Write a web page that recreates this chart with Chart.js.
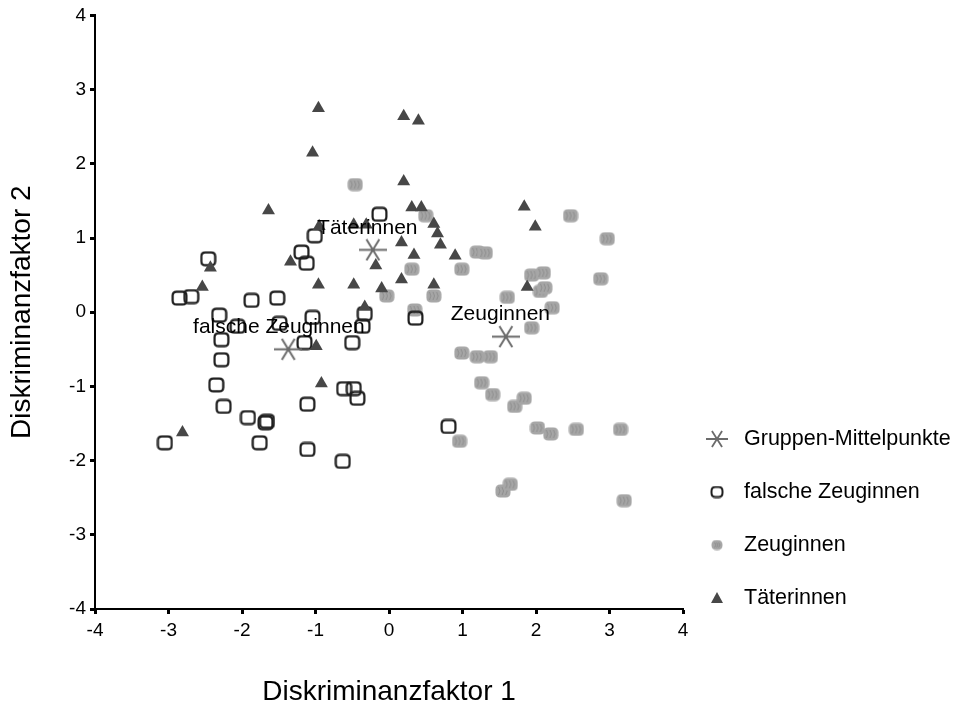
<!DOCTYPE html>
<html>
<head>
<meta charset="utf-8">
<script src="https://cdn.jsdelivr.net/npm/chart.js@4.4.1/dist/chart.umd.min.js"></script>
<style>
  html, body { margin: 0; padding: 0; background: #fff; }
  #wrap { width: 954px; height: 709px; }
</style>
</head>
<body>
<div id="wrap"><canvas id="c" width="954" height="709"></canvas></div>
<script>
// ---------------- data ----------------
const tickValues = [-4, -3, -2, -1, 0, 1, 2, 3, 4];
const xTitle = 'Diskriminanzfaktor 1';
const yTitle = 'Diskriminanzfaktor 2';
const groupNames = ['Gruppen-Mittelpunkte', 'falsche Zeuginnen', 'Zeuginnen', 'Täterinnen'];

const centroidLabels = ['Täterinnen', 'falsche Zeuginnen', 'Zeuginnen'];
const centroidX = [-0.22, -1.37, 1.59];
const centroidY = [0.84, -0.50, -0.33];

const falscheX = [-0.13, -1.01, -1.19, -1.12, -2.46, -2.85, -2.69, -1.87, -1.52, -2.31, -1.04, -0.33,
  -2.06, -1.49, -2.28, -1.15, -0.36, -0.50, -2.28, -2.35, -2.25, -1.92, -1.68, -1.66, -1.76, -3.05,
  -1.11, -1.11, -0.63, -0.61, -0.48, -0.43, 0.36, 0.81];
const falscheY = [1.32, 1.03, 0.81, 0.66, 0.72, 0.19, 0.21, 0.16, 0.19, -0.04, -0.07, -0.02,
  -0.19, -0.15, -0.37, -0.41, -0.19, -0.41, -0.64, -0.98, -1.27, -1.42, -1.49, -1.47, -1.76, -1.76,
  -1.24, -1.85, -2.01, -1.03, -1.03, -1.16, -0.08, -1.54];

const zeugX = [-0.46, -0.03, 0.50, 2.47, 2.97, 1.20, 1.31, 0.31, 0.99, 1.94, 2.10, 2.06, 2.12, 2.88,
  0.61, 1.61, 0.35, 2.22, 1.94, 0.99, 1.20, 1.38, 1.26, 1.41, 1.71, 1.84, 0.96, 2.02, 2.20, 2.55,
  3.15, 1.55, 1.65, 3.20];
const zeugY = [1.72, 0.22, 1.30, 1.30, 0.99, 0.81, 0.80, 0.58, 0.58, 0.50, 0.53, 0.28, 0.33, 0.45,
  0.22, 0.20, 0.03, 0.06, -0.21, -0.55, -0.60, -0.60, -0.95, -1.11, -1.27, -1.16, -1.74, -1.56, -1.64, -1.58,
  -1.58, -2.41, -2.32, -2.54];

const taetX = [-0.96, -1.04, 0.20, 0.40, -1.64, 0.20, 0.31, 0.44, 0.61, 0.66, 0.70, 0.17, -0.95,
  -0.48, -0.31, -1.34, -2.43, -2.54, -0.96, -0.48, -0.18, -0.10, -0.33, 0.34, 0.90, 0.17, 0.61,
  -0.99, -0.92, -2.81, 1.84, 1.99, 1.88];
const taetY = [2.75, 2.15, 2.64, 2.58, 1.37, 1.76, 1.41, 1.41, 1.19, 1.06, 0.91, 0.94, 1.16,
  1.18, 1.18, 0.68, 0.60, 0.34, 0.37, 0.37, 0.63, 0.32, 0.07, 0.77, 0.76, 0.44, 0.37,
  -0.46, -0.96, -1.62, 1.42, 1.15, 0.34];

// ---------------- helpers ----------------
const FONT = "'Liberation Sans', Arial, sans-serif";
const toPts = (xs, ys) => xs.map((x, i) => ({ x: x, y: ys[i] }));

function makeCanvas(w, h, draw) {
  const c = document.createElement('canvas');
  c.width = w; c.height = h;
  draw(c.getContext('2d'), w, h);
  return c;
}
function rr(ctx, x, y, w, h, r) {
  ctx.beginPath();
  ctx.moveTo(x + r, y);
  ctx.lineTo(x + w - r, y);
  ctx.quadraticCurveTo(x + w, y, x + w, y + r);
  ctx.lineTo(x + w, y + h - r);
  ctx.quadraticCurveTo(x + w, y + h, x + w - r, y + h);
  ctx.lineTo(x + r, y + h);
  ctx.quadraticCurveTo(x, y + h, x, y + h - r);
  ctx.lineTo(x, y + r);
  ctx.quadraticCurveTo(x, y, x + r, y);
  ctx.closePath();
}
function starImg(w, h, lw) {
  return makeCanvas(w, h, (ctx) => {
    ctx.strokeStyle = '#6b6b6b';
    ctx.lineWidth = lw;
    ctx.beginPath();
    ctx.moveTo(0, h / 2); ctx.lineTo(w, h / 2);
    ctx.moveTo(w * 0.27, 1); ctx.lineTo(w * 0.73, h - 1);
    ctx.moveTo(w * 0.73, 1); ctx.lineTo(w * 0.27, h - 1);
    ctx.stroke();
  });
}
function squareImg(w, h, lw) {
  return makeCanvas(w, h, (ctx) => {
    ctx.strokeStyle = '#1e1e1e';
    ctx.lineWidth = lw;
    rr(ctx, lw / 2 + 0.5, lw / 2 + 0.5, w - lw - 1, h - lw - 1, 4);
    ctx.stroke();
  });
}
function blobImg(w, h) {
  return makeCanvas(w, h, (ctx) => {
    ctx.fillStyle = '#a6a6a6';
    rr(ctx, 0.5, 0.5, w - 1, h - 1, 5);
    ctx.fill();
    ctx.strokeStyle = '#8e8e8e';
    ctx.lineWidth = 1;
    for (let k = 0; k < 3; k++) {
      const x0 = 3.5 + k * (w - 7) / 2.5;
      ctx.beginPath();
      ctx.moveTo(x0, 3);
      ctx.lineTo(x0 + 1.5, h / 2);
      ctx.lineTo(x0, h - 3);
      ctx.stroke();
    }
  });
}

const starPlot = starImg(28, 23, 2);
const squarePlot = squareImg(17, 16, 2.2);
const blobPlot = blobImg(16, 14);

// ---------------- plugins ----------------
const centroidLabelPlugin = {
  id: 'centroidLabels',
  afterDatasetsDraw(chart) {
    const ctx = chart.ctx;
    const meta = chart.getDatasetMeta(0);
    ctx.save();
    ctx.font = '21px ' + FONT;
    ctx.fillStyle = '#000';
    ctx.textAlign = 'center';
    ctx.textBaseline = 'middle';
    meta.data.forEach((pt, i) => {
      const txt = centroidLabels[i];
      const w = ctx.measureText(txt).width;
      ctx.fillText(txt, pt.x - 0.055 * w, pt.y - 22);
    });
    ctx.restore();
  }
};

const legendPlugin = {
  id: 'sideLegend',
  afterDraw(chart) {
    const ctx = chart.ctx;
    const markers = [
      (x, y) => ctx.drawImage(starImg(22, 18, 1.8), x - 11, y - 9),
      (x, y) => ctx.drawImage(squareImg(14, 13, 2), x - 7, y - 6.5),
      (x, y) => ctx.drawImage(blobImg(12, 11), x - 6, y - 5.5),
      (x, y) => {
        ctx.fillStyle = '#474747';
        ctx.beginPath();
        ctx.moveTo(x, y - 6); ctx.lineTo(x + 6, y + 5); ctx.lineTo(x - 6, y + 5);
        ctx.closePath(); ctx.fill();
      }
    ];
    ctx.save();
    ctx.font = '21.5px ' + FONT;
    ctx.textAlign = 'left';
    ctx.textBaseline = 'middle';
    groupNames.forEach((name, i) => {
      const y = 439 + i * 53;
      markers[i](717, y);
      ctx.fillStyle = '#000';
      ctx.fillText(name, 744, y);
    });
    ctx.restore();
  }
};

// ---------------- chart ----------------
const axisCommon = {
  type: 'linear',
  min: -4,
  max: 4,
  afterBuildTicks: (s) => { s.ticks = tickValues.map(v => ({ value: v })); },
  border: { display: true, color: '#000', width: 2 },
  grid: { drawOnChartArea: false, drawTicks: true, tickLength: 5, tickWidth: 3, color: '#000' },
};

new Chart(document.getElementById('c'), {
  type: 'scatter',
  data: {
    datasets: [
      { label: groupNames[0], data: toPts(centroidX, centroidY), pointStyle: starPlot, order: 0 },
      { label: groupNames[1], data: toPts(falscheX, falscheY), pointStyle: squarePlot, order: 2 },
      { label: groupNames[2], data: toPts(zeugX, zeugY), pointStyle: blobPlot, order: 3 },
      { label: groupNames[3], data: toPts(taetX, taetY), pointStyle: 'triangle', pointRadius: 7.5,
        backgroundColor: '#474747', borderColor: '#474747', borderWidth: 0, order: 1 }
    ]
  },
  options: {
    responsive: false,
    animation: false,
    events: [],
    layout: { padding: { top: 15, right: 271, bottom: 0, left: 0 } },
    plugins: { legend: { display: false }, tooltip: { enabled: false } },
    scales: {
      x: Object.assign({}, axisCommon, {
        position: 'bottom',
        afterFit: (s) => { s.height = 100; },
        ticks: { color: '#000', font: { family: FONT, size: 19 }, padding: 5, maxRotation: 0, autoSkip: false },
        title: { display: true, text: xTitle, color: '#000', font: { family: FONT, size: 28 }, padding: { top: 0, bottom: 0 } }
      }),
      y: Object.assign({}, axisCommon, {
        position: 'left',
        afterFit: (s) => { s.width = 95; },
        ticks: { color: '#000', font: { family: FONT, size: 19 }, padding: 4, autoSkip: false },
        title: { display: true, text: yTitle, color: '#000', font: { family: FONT, size: 28 }, padding: { top: 5, bottom: 0 } }
      })
    }
  },
  plugins: [centroidLabelPlugin, legendPlugin]
});
</script>
</body>
</html>
